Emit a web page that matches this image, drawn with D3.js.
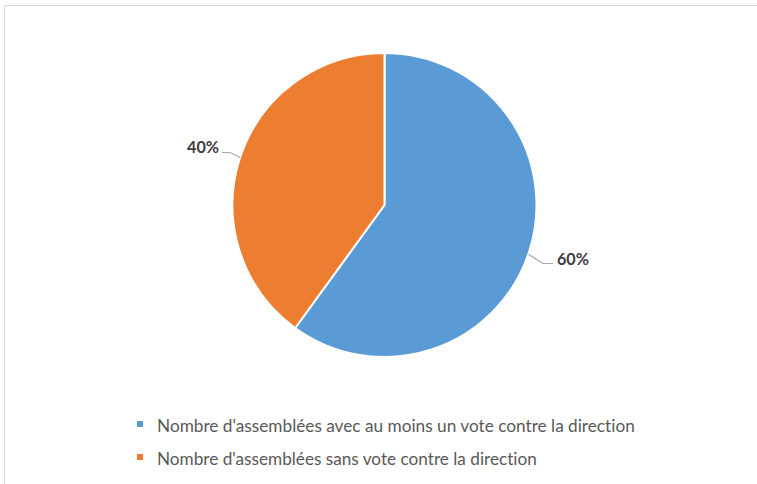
<!DOCTYPE html>
<html><head><meta charset="utf-8">
<script src="https://cdn.jsdelivr.net/npm/d3@7"></script>
<style>body{margin:0;background:#fff}svg{display:block}text{font-variant-ligatures:none;font-feature-settings:"liga" 0,"clig" 0,"dlig" 0}</style>
</head><body>
<svg id="c" width="757" height="484"></svg>
<script>
const categories = ["Nombre d'assemblées avec au moins un vote contre la direction","Nombre d'assemblées sans vote contre la direction"];
const values = [60, 40];
const colors = ["#5B9BD5", "#ED7D31"];

const svg = d3.select("#c");
svg.append("rect").attr("x",4.5).attr("y",5.5).attr("width",800).attr("height",600)
  .attr("fill","none").attr("stroke","#d9d9d9").attr("stroke-width",1);

const cx = 384.5, cy = 205, r = 152;
const pie = d3.pie().sort(null).value(d=>d)(values);
const arc = d3.arc().innerRadius(0).outerRadius(r);
const g = svg.append("g").attr("transform",`translate(${cx},${cy})`);
g.selectAll("path").data(pie).join("path")
  .attr("d",arc).attr("fill",(d,i)=>colors[i])
  .attr("stroke","#fff").attr("stroke-width",2).attr("stroke-linejoin","round");

const total = d3.sum(values);
const font = "Lato, 'Open Sans', sans-serif";
pie.forEach((d,i)=>{
  const pct = Math.round(d.value/total*100)+"%";
  let pts, tx, ty, anchor;
  if(i===0){
    const a = 1.90;
    const p0=[r*Math.sin(a), -r*Math.cos(a)];
    pts=[p0,[158.5,58.5],[168.5,58.5]];
    tx=172.5; ty=59.5; anchor="start";
  } else {
    const a = 5.03;
    const p0=[r*Math.sin(a), -r*Math.cos(a)];
    pts=[p0,[-154.5,-52.5],[-162.5,-52.5]];
    tx=-165.5; ty=-52; anchor="end";
  }
  g.append("path").attr("d",d3.line()(pts)).attr("fill","none")
    .attr("stroke","#a6a6a6").attr("stroke-width",1.2);
  const t = g.append("text").attr("x",tx).attr("y",ty).attr("text-anchor",anchor)
    .attr("font-family",font).attr("font-weight","bold")
    .attr("font-size",16).attr("fill","#404040").text(pct);
  const w = t.node().getComputedTextLength();
  t.attr("font-size", 16*32/w);
});

const legendY = [432, 465];
const targetW = [478, 380];
const lg = svg.append("g");
categories.forEach((c,i)=>{
  lg.append("rect").attr("x",137).attr("y",legendY[i]-11).attr("width",6).attr("height",6).attr("fill",colors[i]);
  const t = lg.append("text").attr("x",157).attr("y",legendY[i])
    .attr("font-family",font).attr("font-size",15)
    .attr("fill","#595959").text(c);
  const w = t.node().getComputedTextLength();
  t.attr("font-size", 15*targetW[i]/w);
});
</script>
</body></html>
